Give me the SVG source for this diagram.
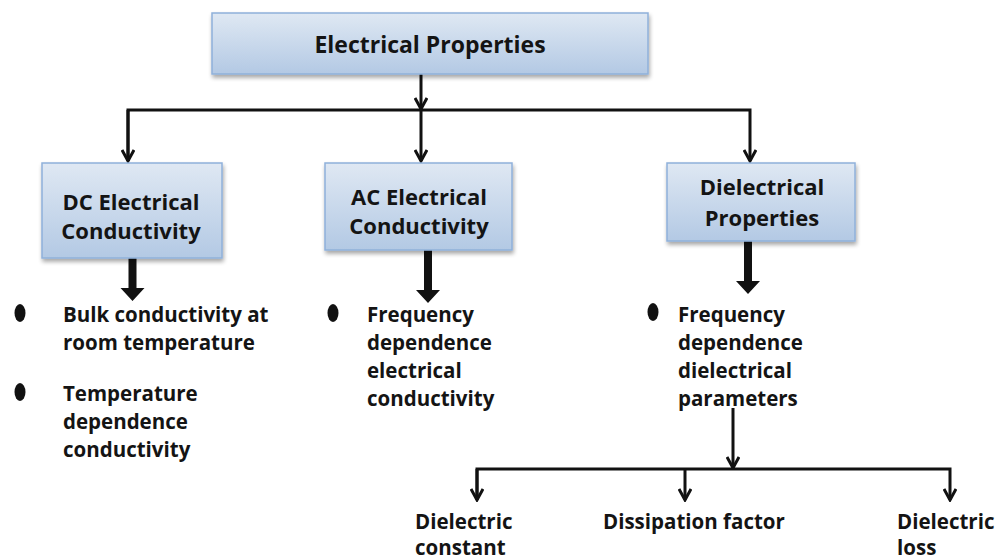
<svg xmlns="http://www.w3.org/2000/svg" width="997" height="560" viewBox="0 0 997 560">
<defs>
<linearGradient id="boxg" x1="0" y1="0" x2="0" y2="1">
<stop offset="0" stop-color="#dfe8f3"/>
<stop offset="1" stop-color="#b3c9e4"/>
</linearGradient>
<filter id="sh" x="-10%" y="-10%" width="130%" height="140%">
<feGaussianBlur in="SourceAlpha" stdDeviation="2"/>
<feOffset dx="1" dy="3"/>
<feComponentTransfer><feFuncA type="linear" slope="0.35"/></feComponentTransfer>
<feMerge><feMergeNode/><feMergeNode in="SourceGraphic"/></feMerge>
</filter>
<marker id="v" viewBox="0 0 14 14" refX="12" refY="7" markerWidth="14" markerHeight="14" markerUnits="userSpaceOnUse" orient="auto">
<path d="M1,1 L12,7 L1,13" fill="none" stroke="#111" stroke-width="3" stroke-linejoin="miter"/>
</marker>
</defs>
<style>
.box{fill:url(#boxg);stroke:#8fb0da;stroke-width:1.5;filter:url(#sh)}
.t{font-family:"Open Sans","Liberation Sans",sans-serif;font-weight:bold;fill:#141414}
.bt{font-size:22px;text-anchor:middle}
.lt{font-size:20.5px}
.ln{fill:none;stroke:#111;stroke-width:3}
.ar{fill:none;stroke:#111;stroke-width:3;marker-end:url(#v)}
.th{fill:#111}
.bul{fill:#111}
</style>
<rect width="997" height="560" fill="#ffffff"/>

<g id="connectors">
<line class="ar" x1="421" y1="74" x2="421" y2="109"/>
<polyline class="ln" points="128,161 128,110 750,110 750,161" marker-end="url(#v)"/>
<line class="ln" x1="128" y1="110" x2="128" y2="161" marker-end="url(#v)"/>
<line class="ar" x1="421" y1="110" x2="421" y2="161"/>
<path class="th" d="M128.5,258 h8 v30 h8 l-12,13 l-12,-13 h8 z"/>
<path class="th" d="M424,250 h8 v40 h8 l-12,13 l-12,-13 h8 z"/>
<path class="th" d="M744,241 h8 v40 h8 l-12,13 l-12,-13 h8 z"/>
<line class="ar" x1="733" y1="408" x2="733" y2="468"/>
<polyline class="ln" points="477,500 477,469 950,469 950,500" marker-end="url(#v)"/>
<line class="ln" x1="477" y1="469" x2="477" y2="500" marker-end="url(#v)"/>
<line class="ar" x1="685" y1="469" x2="685" y2="500"/>
</g>

<g id="electrical-properties">
<rect class="box" x="212" y="13" width="436" height="61"/>
<text class="t" x="430" y="53" font-size="23" text-anchor="middle">Electrical Properties</text>
</g>

<g id="dc-conductivity">
<rect class="box" x="42" y="163" width="180" height="95"/>
<text class="t bt" x="131" y="210">DC Electrical</text>
<text class="t bt" x="131" y="239">Conductivity</text>
</g>

<g id="ac-conductivity">
<rect class="box" x="325" y="163" width="187" height="87"/>
<text class="t bt" x="419" y="205">AC Electrical</text>
<text class="t bt" x="419" y="234">Conductivity</text>
</g>

<g id="dielectrical-properties">
<rect class="box" x="667" y="163" width="188" height="78"/>
<text class="t bt" x="762" y="195">Dielectrical</text>
<text class="t bt" x="762" y="226">Properties</text>
</g>

<g id="dc-items">
<ellipse class="bul" cx="20" cy="313" rx="5.5" ry="9"/>
<text class="t lt" x="63" y="322">Bulk conductivity at</text>
<text class="t lt" x="63" y="350">room temperature</text>
<ellipse class="bul" cx="20" cy="392" rx="5.5" ry="9"/>
<text class="t lt" x="63" y="401">Temperature</text>
<text class="t lt" x="63" y="429">dependence</text>
<text class="t lt" x="63" y="457">conductivity</text>
</g>

<g id="ac-items">
<ellipse class="bul" cx="333" cy="313" rx="5.5" ry="9"/>
<text class="t lt" x="367" y="322">Frequency</text>
<text class="t lt" x="367" y="350">dependence</text>
<text class="t lt" x="367" y="378">electrical</text>
<text class="t lt" x="367" y="406">conductivity</text>
</g>

<g id="diel-items">
<ellipse class="bul" cx="653" cy="312" rx="5.5" ry="9"/>
<text class="t lt" x="678" y="322">Frequency</text>
<text class="t lt" x="678" y="350">dependence</text>
<text class="t lt" x="678" y="378">dielectrical</text>
<text class="t lt" x="678" y="406">parameters</text>
</g>

<g id="dielectric-constant">
<text class="t lt" x="415" y="529">Dielectric</text>
<text class="t lt" x="415" y="555">constant</text>
</g>
<g id="dissipation-factor">
<text class="t lt" x="603" y="529">Dissipation factor</text>
</g>
<g id="dielectric-loss">
<text class="t lt" x="897" y="529">Dielectric</text>
<text class="t lt" x="897" y="555">loss</text>
</g>
</svg>
